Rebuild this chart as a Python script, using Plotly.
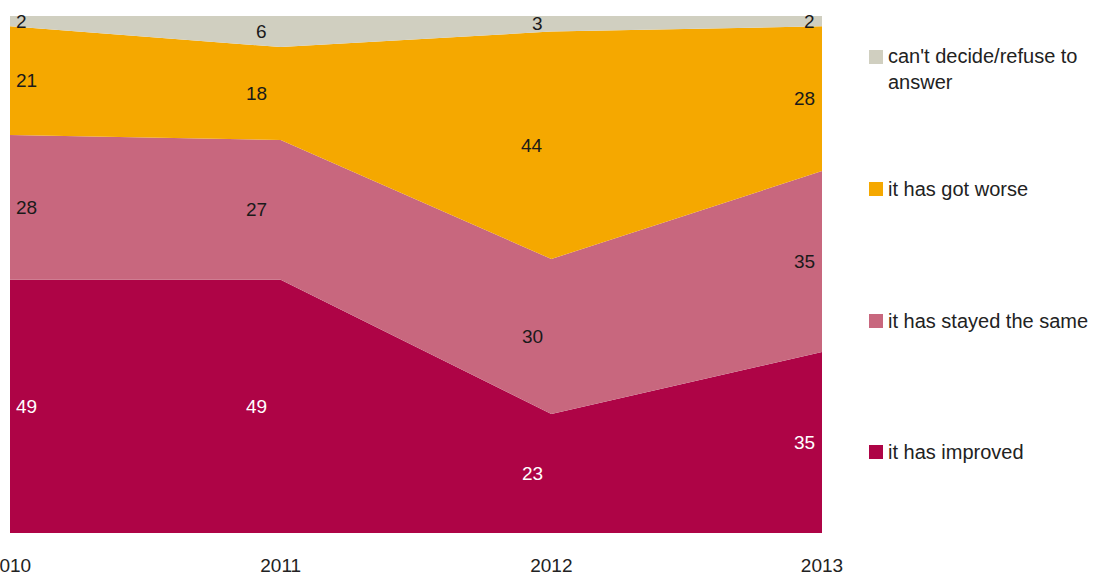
import plotly.graph_objects as go

# Survey results, share of respondents (%)
years = [2010, 2011, 2012, 2013]
improved = [49, 49, 23, 35]
stayed_same = [28, 27, 30, 35]
got_worse = [21, 18, 44, 28]
cant_decide = [2, 6, 3, 2]

series = [
    ("it has improved", improved, "#AE0446", "#FFFFFF"),
    ("it has stayed the same", stayed_same, "#C8677E", "#1A1A1A"),
    ("it has got worse", got_worse, "#F5A800", "#1A1A1A"),
    ("can't decide/refuse to<br>answer", cant_decide, "#D0CFC0", "#1A1A1A"),
]

FONT = "Liberation Sans, Arial, sans-serif"

fig = go.Figure()
for name, vals, color, _ in series:
    fig.add_trace(go.Scatter(
        x=years, y=vals, name=name, mode="lines",
        stackgroup="one", line=dict(width=0, color=color),
        fillcolor=color, hoverinfo="x+y+name", showlegend=False,
    ))

# value labels placed in the middle of each band
label_pos = {2010: ("left", 4), 2011: ("right", -12), 2012: ("right", -6), 2013: ("right", -5)}
base = [0] * len(years)
annotations = []
for name, vals, color, txtcolor in series:
    for i, yr in enumerate(years):
        mid = base[i] + vals[i] / 2
        anchor, shift = label_pos[yr]
        annotations.append(dict(
            x=yr, y=mid, xref="x", yref="y", text=str(vals[i]),
            showarrow=False, xanchor=anchor, yanchor="middle", xshift=shift,
            font=dict(family=FONT, size=19, color=txtcolor),
        ))
        base[i] += vals[i]

# legend drawn on the right side: square marker + text
L, R, T, B = 10, 272, 16, 41
W, H = 1094, 574
pw, ph = W - L - R, H - T - B
legend_rows = [
    (series[3], 57, 69),
    (series[2], 189, 189),
    (series[1], 321, 321),
    (series[0], 452, 452),
]
shapes = []
for (name, _, color, _), sq_y, txt_y in legend_rows:
    x0 = (869 - L) / pw
    x1 = (883 - L) / pw
    y0 = (H - B - (sq_y + 7)) / ph
    y1 = (H - B - (sq_y - 7)) / ph
    shapes.append(dict(type="rect", xref="paper", yref="paper",
                       x0=x0, x1=x1, y0=y0, y1=y1,
                       fillcolor=color, line=dict(width=0)))
    annotations.append(dict(
        x=(886 - L) / pw, y=(H - B - txt_y) / ph, xref="paper", yref="paper",
        text=name, showarrow=False, xanchor="left", yanchor="middle", align="left",
        font=dict(family=FONT, size=20, color="#222222"),
    ))

fig.update_layout(
    width=W, height=H,
    margin=dict(l=L, r=R, t=T, b=B, autoexpand=False),
    paper_bgcolor="white", plot_bgcolor="white",
    showlegend=False,
    annotations=annotations,
    shapes=shapes,
    font=dict(family=FONT, size=19, color="#222222"),
)
fig.update_xaxes(
    range=[2010, 2013], tickvals=years, ticktext=[str(y) for y in years],
    showgrid=False, zeroline=False, showline=False, automargin=False,
    ticks="outside", ticklen=0, ticklabelstandoff=15,
    ticklabeloverflow="allow",
    tickfont=dict(family=FONT, size=19, color="#222222"),
)
fig.update_yaxes(range=[0, 100], showgrid=False, zeroline=False,
                 showline=False, showticklabels=False, automargin=False)

fig.write_html("out.html")
